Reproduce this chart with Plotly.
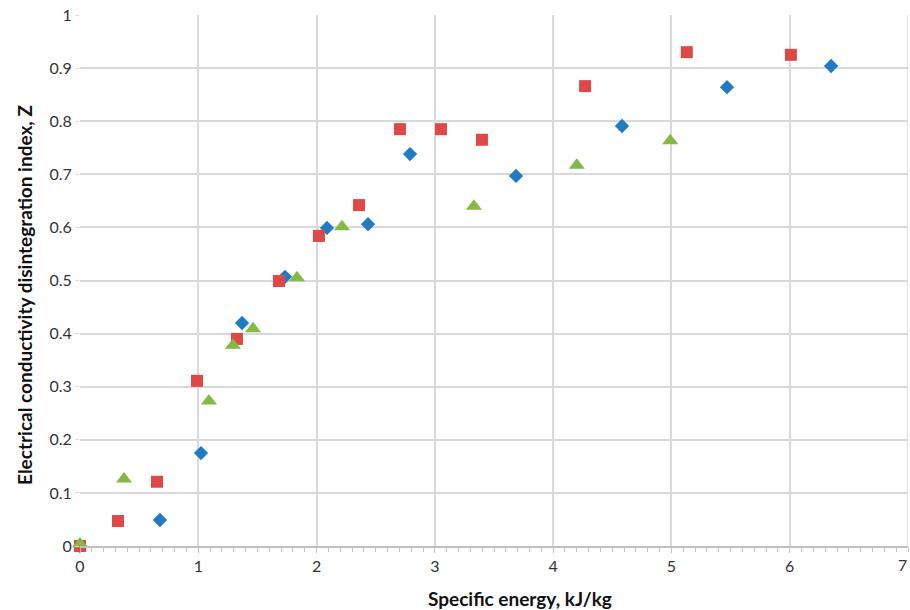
import plotly.graph_objects as go

blue_x = [0.0, 0.676, 1.023, 1.37, 1.733, 2.088, 2.435, 2.79, 3.686, 4.582, 5.47, 6.35]
blue_y = [0.0, 0.049, 0.175, 0.42, 0.507, 0.599, 0.606, 0.738, 0.697, 0.791, 0.864, 0.904]

red_x = [0.0, 0.321, 0.651, 0.989, 1.327, 1.682, 2.02, 2.359, 2.705, 3.052, 3.398, 4.27, 5.13, 6.01]
red_y = [0.0, 0.047, 0.121, 0.311, 0.39, 0.499, 0.584, 0.642, 0.785, 0.785, 0.765, 0.866, 0.930, 0.925]

green_x = [0.0, 0.372, 1.09, 1.293, 1.463, 1.834, 2.215, 3.33, 4.2, 4.99]
green_y = [0.004, 0.126, 0.273, 0.378, 0.409, 0.505, 0.601, 0.64, 0.717, 0.763]

x_ticks = [0, 1, 2, 3, 4, 5, 6, 7]
x_labels = ["0", "1", "2", "3", "4", "5", "6", "7"]
y_ticks = [0, 0.1, 0.2, 0.3, 0.4, 0.5, 0.6, 0.7, 0.8, 0.9, 1]
y_labels = ["0", "0.1", "0.2", "0.3", "0.4", "0.5", "0.6", "0.7", "0.8", "0.9", "1"]

x_title = "Specific energy, kJ/kg"
y_title = "Electrical conductivity disintegration index, Z"

fig = go.Figure()
fig.add_trace(go.Scatter(x=blue_x, y=blue_y, mode="markers", cliponaxis=False,
                         marker=dict(symbol="diamond", size=11, color="#1F7BC3")))
fig.add_trace(go.Scatter(x=red_x, y=red_y, mode="markers", cliponaxis=False,
                         marker=dict(symbol="square", size=12, color="#E04848")))
fig.add_trace(go.Scatter(x=green_x, y=green_y, mode="markers", cliponaxis=False,
                         marker=dict(symbol="triangle-up", size=14, color="#85B844")))

font_family = "Lato, 'Open Sans', sans-serif"
fig.update_layout(
    width=910, height=610,
    margin=dict(l=80, r=2, t=15, b=64),
    plot_bgcolor="white", paper_bgcolor="white",
    showlegend=False,
    font=dict(family=font_family, size=16, color="#333333"),
    xaxis=dict(range=[0, 7], tickvals=x_ticks[:-1], ticktext=x_labels[:-1], showgrid=True,
               gridcolor="#D9D9D9", gridwidth=1.5,
               zeroline=False, showline=True, linecolor="#BFBFBF", linewidth=1.5,
               ticks="outside", ticklen=5, tickcolor="#BFBFBF",
               minor=dict(dtick=0.1, ticks="outside", ticklen=4, tickcolor="#BFBFBF", showgrid=False),
               tickfont=dict(size=16, color="#333333")),
    yaxis=dict(range=[0, 1], tickvals=y_ticks, ticktext=y_labels, showgrid=True, gridcolor="#D9D9D9",
               gridwidth=1.5, zeroline=False, showline=False,
               ticks="outside", ticklen=4, tickcolor="#D9D9D9",
               tickfont=dict(size=16, color="#333333")),
)
fig.add_vline(x=7, line=dict(color="#D9D9D9", width=1.5))
fig.add_annotation(x=x_ticks[-1], y=0, xref="x", yref="paper", text=x_labels[-1], showarrow=False,
                   xanchor="right", xshift=1, yanchor="top", yshift=-7, font=dict(size=16, color="#333333"))
fig.add_annotation(x=(520 - 80) / 828, y=-(598 - 546) / 531, xref="paper", yref="paper",
                   text="<b>" + x_title + "</b>", showarrow=False,
                   xanchor="center", yanchor="middle", font=dict(size=19, color="#111111"))
fig.add_annotation(x=-(80 - 24) / 828, y=(546 - 295) / 531, xref="paper", yref="paper",
                   text="<b>" + y_title + "</b>", textangle=-90, showarrow=False,
                   xanchor="center", yanchor="middle", font=dict(size=19, color="#111111"))
fig.write_html("out.html")
